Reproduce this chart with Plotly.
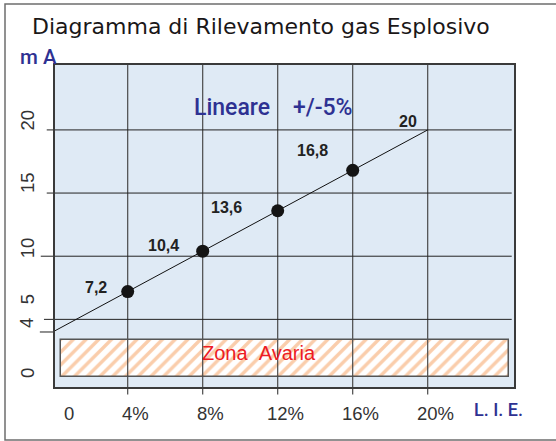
import plotly.graph_objects as go

# ---- data ----
lie_pct = [0, 4, 8, 12, 16, 20]            # % L.I.E.
ma_out = [4, 7.2, 10.4, 13.6, 16.8, 20]     # mA
point_labels = ["", "7,2", "10,4", "13,6", "16,8", "20"]
x_tick_vals = [0, 4, 8, 12, 16, 20]
x_tick_text = ["0", "4%", "8%", "12%", "16%", "20%"]
y_tick_vals = [0, 4, 5, 10, 15, 20]
y_tick_text = ["0", "4", "5", "10", "15", "20"]
y_grid_vals = [5, 10, 15, 20]
x_grid_vals = [4, 8, 12, 16, 20]
fault_zone = [0.46, 3.365]      # mA band "Zona Avaria"
fault_x = [0.43, 24.35]

# ---- layout geometry ----
W, H = 556, 441
ML, MR, MT, MB = 55, 42, 65, 54
XR = [0.123, 24.603]
YR = [-0.356, 25.14]

def xp(v):
    return (v - XR[0]) / (XR[1] - XR[0])

def yp(v):
    return (v - YR[0]) / (YR[1] - YR[0])

BLUE = "#2e3192"
TXT = "#333333"
SANS = "Liberation Sans, Arial, sans-serif"
MED = "Roboto, Liberation Sans, Arial, sans-serif"
NARROW = "Liberation Sans Narrow, Arial Narrow, Liberation Sans, sans-serif"

fig = go.Figure()

# fault zone (hatched)
fig.add_trace(go.Bar(
    x=[(fault_x[0] + fault_x[1]) / 2], width=[fault_x[1] - fault_x[0]],
    base=[fault_zone[0]], y=[fault_zone[1] - fault_zone[0]],
    marker=dict(color="white", line=dict(color="#555555", width=1.5),
                pattern=dict(shape="/", fgcolor="#f59b58", bgcolor="white",
                             size=9, solidity=0.38)),
    showlegend=False, hoverinfo="skip"))

# vertical grid through the hatched zone
vx, vy = [], []
for g in x_grid_vals:
    vx += [g, g, None]
    vy += [fault_zone[0], fault_zone[1], None]
fig.add_trace(go.Scatter(x=vx, y=vy, mode="lines",
                         line=dict(color="#4a4a4a", width=1.2),
                         showlegend=False, hoverinfo="skip"))

# linear response
fig.add_trace(go.Scatter(x=lie_pct, y=ma_out, mode="lines",
                         line=dict(color="#111111", width=1),
                         showlegend=False, hoverinfo="skip"))
fig.add_trace(go.Scatter(x=lie_pct[1:5], y=ma_out[1:5], mode="markers",
                         marker=dict(color="#141414", size=13),
                         showlegend=False, hoverinfo="skip"))

shapes = []
# outer frame
shapes.append(dict(type="rect", xref="paper", yref="paper",
                   x0=(5 - ML) / (W - ML - MR), x1=1.2,
                   y0=-(440 - (H - MB)) / (H - MT - MB),
                   y1=1 + (MT - 4) / (H - MT - MB),
                   line=dict(color="#6e6e6e", width=1.5), layer="below"))
# vertical grid lines (extend beyond plot)
for g in x_grid_vals:
    shapes.append(dict(type="line", xref="x", yref="paper", x0=g, x1=g,
                       y0=-0.023, y1=1.006,
                       line=dict(color="#4a4a4a", width=1.2), layer="below"))
# horizontal grid lines
hstart = {5: -0.024, 10: -0.031, 15: -0.018, 20: -0.018}
for g in y_grid_vals:
    shapes.append(dict(type="line", xref="paper", yref="y", x0=hstart[g], x1=0.995,
                       y0=g, y1=g, line=dict(color="#222222", width=1), layer="below"))
# short 4 mA tick
shapes.append(dict(type="line", xref="paper", yref="y", x0=-0.033, x1=0,
                   y0=4, y1=4, line=dict(color="#222222", width=1), layer="below"))

ann = []
# title
ann.append(dict(text="Diagramma di Rilevamento gas Esplosivo", xref="paper", yref="paper",
                x=-0.054, y=1.12, xanchor="left", yanchor="middle", showarrow=False,
                font=dict(family="DejaVu Sans, sans-serif", size=22, color="#1a1718")))
ann.append(dict(text="m\u00a0A", xref="paper", yref="paper", x=(18 - ML) / (W - ML - MR),
                y=1.026, xanchor="left", yanchor="middle", showarrow=False,
                font=dict(family=MED, size=20.5, color=BLUE, weight=500)))
ann.append(dict(text="Lineare\u00a0\u00a0\u00a0\u00a0+/-5%", xref="paper", yref="paper",
                x=xp(7.41), y=yp(21.76), xanchor="left", yanchor="middle", showarrow=False,
                font=dict(family=MED, size=23, color=BLUE, weight=500)))
ann.append(dict(text="Zona\u00a0\u00a0Avaria", xref="paper", yref="paper",
                x=xp(11.0), y=yp(2.36), xanchor="center", yanchor="middle", showarrow=False,
                font=dict(family=SANS, size=20, color="#ed1c24")))
ann.append(dict(text="L.\u00a0I.\u00a0E.", xref="paper", yref="paper", x=(498 - ML) / (W - ML - MR),
                y=-0.0714, xanchor="center", yanchor="middle", showarrow=False,
                font=dict(family=MED, size=18, color=BLUE, weight=500)))
# x tick labels
for v, t in zip(x_tick_vals, x_tick_text):
    ann.append(dict(text=t, xref="paper", yref="paper", x=xp(v), y=-0.082,
                    xshift=16.6 if v == 0 else 7.5,
                    xanchor="center", yanchor="middle", showarrow=False,
                    font=dict(family=SANS, size=18.5, color=TXT)))
# y tick labels (rotated)
yshift = {0: 9.5, 4: 9, 5: 20, 10: 8, 15: 10, 20: 9.5}
for v, t in zip(y_tick_vals, y_tick_text):
    ann.append(dict(text=t, xref="paper", yref="paper", x=(27 - ML) / (W - ML - MR),
                    y=yp(v), yshift=yshift[v], textangle=-90,
                    xanchor="center", yanchor="middle", showarrow=False,
                    font=dict(family=SANS, size=18.5, color=TXT)))
# point labels
offs = {1: (-31.7, 3.6), 2: (-38.7, 6.1), 3: (-50.7, 3.7), 4: (-39.7, 20.3), 5: (-19.7, 8.9)}
for i in range(1, 6):
    dx, dy = offs[i]
    ann.append(dict(text="<b>%s</b>" % point_labels[i], xref="paper", yref="paper",
                    x=xp(lie_pct[i]), y=yp(ma_out[i]), xshift=dx, yshift=dy,
                    xanchor="center", yanchor="middle", showarrow=False,
                    font=dict(family=NARROW, size=16, color="#222222")))

fig.update_layout(
    width=W, height=H, margin=dict(l=ML, r=MR, t=MT, b=MB, pad=0),
    paper_bgcolor="white", plot_bgcolor="#dfeaf5",
    xaxis=dict(range=XR, showgrid=False, zeroline=False, showticklabels=False,
               ticks="", showline=True, mirror=True, linecolor="#3a3a3a", linewidth=1.5,
               fixedrange=True),
    yaxis=dict(range=YR, showgrid=False, zeroline=False, showticklabels=False,
               ticks="", showline=True, mirror=True, linecolor="#3a3a3a", linewidth=1.5,
               fixedrange=True),
    shapes=shapes, annotations=ann, showlegend=False, bargap=0,
)

fig.write_html("out.html", config={"displayModeBar": False},
               post_script="document.body.style.margin='0';document.body.style.overflow='hidden';")
